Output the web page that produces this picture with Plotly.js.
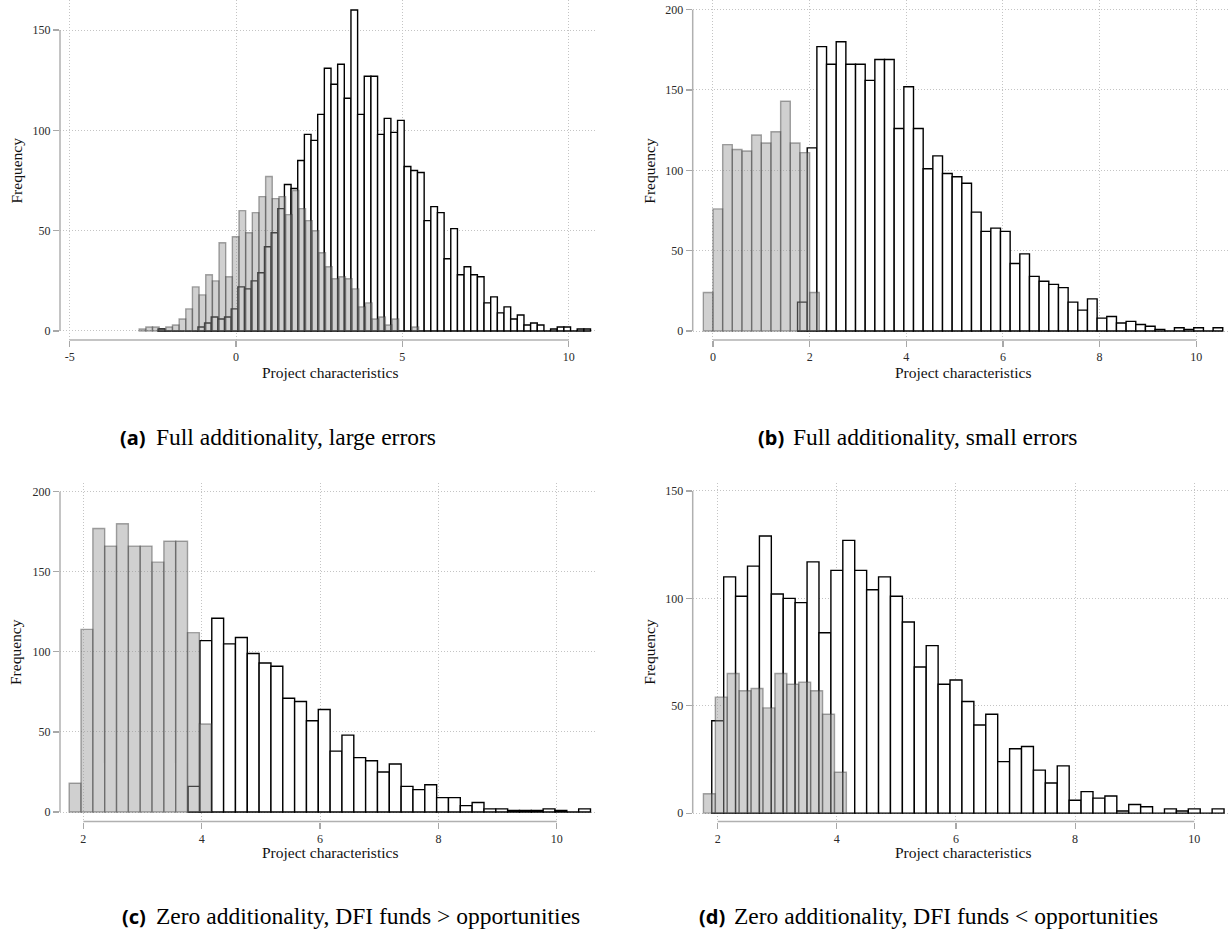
<!DOCTYPE html>
<html><head><meta charset="utf-8">
<script src="https://cdn.plot.ly/plotly-3.0.1.min.js"></script>
<style>html,body{margin:0;padding:0;background:#fff}#chart{width:1231px;height:934px}</style>
</head><body><div id="chart"></div>
<script>
// ---------- data (histogram counts) ----------
const binWidth = 0.2;

// (a) Full additionality, large errors
const aGreyStart = -2.91;
const aGreyCounts = [1,2,2,1,2,3,6,11,22,18,28,25,44,27,47,60,49,59,67,77,66,67,58,70,61,55,50,39,32,26,27,26,21,12,14,6,7,3,6,0,0,2];
const aBlackStart = -2.345;
const aBlackCounts = [1,0,0,0,0,0,2,4,7,6,7,11,22,21,25,29,42,49,61,73,71,85,98,95,108,131,123,133,116,160,108,127,127,98,106,99,105,82,80,79,55,62,59,36,51,28,32,28,27,14,17,9,12,6,8,3,4,3,0,1,2,2,0,1,1];

// (b) Full additionality, small errors
const bGreyStart = -0.2;
const bGreyCounts = [24,76,116,113,112,122,117,124,143,117,111,24];
const bBlackStart = 1.75;
const bBlackCounts = [18,114,177,166,180,166,166,156,169,169,126,152,126,101,109,98,96,92,74,62,64,62,42,48,34,31,29,27,18,13,20,8,9,5,6,4,3,1,0,2,1,2,0,2];

// (c) Zero additionality, DFI funds > opportunities
const cGreyStart = 1.76;
const cGreyCounts = [18,114,177,166,180,166,166,156,169,169,112,55];
const cBlackStart = 3.77;
const cBlackCounts = [16,107,121,105,109,99,93,91,71,69,57,64,38,48,34,32,25,30,16,14,17,9,9,4,6,2,2,1,1,1,2,1,0,2];

// (d) Zero additionality, DFI funds < opportunities
const dGreyStart = 1.76;
const dGreyCounts = [9,54,65,57,58,49,65,60,61,57,46,19];
const dBlackStart = 1.90;
const dBlackCounts = [43,110,101,115,129,102,100,98,117,84,113,127,113,104,110,101,89,68,78,60,62,52,41,46,24,30,31,20,14,22,6,10,7,8,1,4,3,0,2,1,2,0,2];

// tick values
const aXTicks = [-5,0,5,10];
const aYTicks = [0,50,100,150];
const bXTicks = [0,2,4,6,8,10];
const bYTicks = [0,50,100,150,200];
const cXTicks = [2,4,6,8,10];
const cYTicks = [0,50,100,150,200];
const dXTicks = [2,4,6,8,10];
const dYTicks = [0,50,100,150];

const captions = [
  ['(a)', 'Full additionality, large errors'],
  ['(b)', 'Full additionality, small errors'],
  ['(c)', 'Zero additionality, DFI funds > opportunities'],
  ['(d)', 'Zero additionality, DFI funds < opportunities']
];
const xTitle = 'Project characteristics';
const yTitle = 'Frequency';

// ---------- layout helpers ----------
const W = 1231, H = 934;
const px = v => v / W;
const py = v => 1 - v / H;
const SERIF = 'Liberation Serif, Times New Roman, serif';

function centers(start, n) {
  const xs = [];
  for (let i = 0; i < n; i++) xs.push(start + (i + 0.5) * binWidth);
  return xs;
}
function blackTrace(start, counts, n) {
  return {type: 'bar', x: centers(start, counts.length), y: counts, width: binWidth,
    xaxis: 'x' + n, yaxis: 'y' + n, hoverinfo: 'skip',
    marker: {color: '#ffffff', line: {color: '#000000', width: 1.4}}};
}
function greyTrace(start, counts, n) {
  return {type: 'bar', x: centers(start, counts.length), y: counts, width: binWidth,
    xaxis: 'x' + n, yaxis: 'y' + n, hoverinfo: 'skip',
    marker: {color: 'rgba(150,150,150,0.45)', line: {color: 'rgba(60,60,60,0.45)', width: 1.4}}};
}
function axisCommon() {
  return {showline: false, zeroline: false, showgrid: true, gridcolor: '#c4c4c4', griddash: '1px,2px', gridwidth: 1,
    ticks: 'outside', ticklen: 6, tickwidth: 1.2, tickcolor: '#a8a8a8',
    tickfont: {family: SERIF, size: 12, color: '#2a2a2a'}, fixedrange: true};
}
function xAxis(domain, range, ticks, anchor) {
  return Object.assign(axisCommon(), {domain, range, anchor, tickvals: ticks, ticktext: ticks.map(String)});
}
function yAxis(domain, range, ticks, anchor) {
  return Object.assign(axisCommon(), {domain, range, anchor, tickvals: ticks, ticktext: ticks.map(String)});
}
function axisLines(n, xt, yt) {
  const xs = n === 1 ? 'x' : 'x' + n, ys = n === 1 ? 'y' : 'y' + n;
  const st = {color: '#b0b0b0', width: 1.5};
  return [
    {type: 'line', xref: xs, yref: ys + ' domain', x0: xt[0], x1: xt[xt.length - 1], y0: 0, y1: 0, line: st},
    {type: 'line', xref: xs + ' domain', yref: ys, x0: 0, x1: 0, y0: yt[0], y1: yt[yt.length - 1], line: st}
  ];
}

const traces = [
  blackTrace(aBlackStart, aBlackCounts, ''), greyTrace(aGreyStart, aGreyCounts, ''),
  blackTrace(bBlackStart, bBlackCounts, 2), greyTrace(bGreyStart, bGreyCounts, 2),
  blackTrace(cBlackStart, cBlackCounts, 3), greyTrace(cGreyStart, cGreyCounts, 3),
  blackTrace(dBlackStart, dBlackCounts, 4), greyTrace(dGreyStart, dGreyCounts, 4)
];

const topY = [py(340), 1];
const botY = [py(821.5), py(483)];
const leftX = [px(60), px(597)];
const rightX = [px(692.7), px(1230)];

const annotations = [];
function ann(text, x, y, opts) {
  annotations.push(Object.assign({text, x: px(x), y: py(y), xref: 'paper', yref: 'paper', showarrow: false,
    xanchor: 'center', yanchor: 'middle', font: {family: SERIF, size: 15.5, color: '#111'}}, opts || {}));
}
// axis titles
ann(yTitle, 16, 170.5, {textangle: -90});
ann(yTitle, 648.7, 171, {textangle: -90});
ann(yTitle, 15, 652, {textangle: -90});
ann(yTitle, 648.7, 652, {textangle: -90});
ann(xTitle, 329.5, 372);
ann(xTitle, 962.5, 372);
ann(xTitle, 330, 852);
ann(xTitle, 963, 852);
// captions
const capPos = [[148, 154, 437], [786, 791, 437], [148, 154, 916], [727, 732, 916]];
captions.forEach((c, i) => {
  const [lx, tx, cy] = capPos[i];
  ann('<b>' + c[0] + '</b>', lx, cy, {xanchor: 'right', font: {family: 'Noto Sans, DejaVu Sans, sans-serif', size: 20, color: '#000'}});
  ann(c[1], tx, cy, {xanchor: 'left', font: {family: SERIF, size: 23.5, color: '#000'}});
});

const layout = {
  width: W, height: H, margin: {l: 0, r: 0, t: 0, b: 0},
  paper_bgcolor: '#fff', plot_bgcolor: '#fff', showlegend: false,
  barmode: 'overlay', bargap: 0,
  xaxis:  xAxis(leftX,  [-5.29, 10.85], aXTicks, 'y'),
  yaxis:  yAxis(topY,   [-4.5, 165],    aYTicks, 'x'),
  xaxis2: xAxis(rightX, [-0.42, 10.7],  bXTicks, 'y2'),
  yaxis2: yAxis(topY,   [-5.6, 206],    bYTicks, 'x2'),
  xaxis3: xAxis(leftX,  [1.605, 10.68], cXTicks, 'y3'),
  yaxis3: yAxis(botY,   [-5.9, 205.4],  cYTicks, 'x3'),
  xaxis4: xAxis(rightX, [1.58, 10.6],   dXTicks, 'y4'),
  yaxis4: yAxis(botY,   [-3.9, 153.7],  dYTicks, 'x4'),
  shapes: [].concat(axisLines(1, aXTicks, aYTicks), axisLines(2, bXTicks, bYTicks),
                    axisLines(3, cXTicks, cYTicks), axisLines(4, dXTicks, dYTicks)),
  annotations
};
Plotly.newPlot('chart', traces, layout, {staticPlot: true, displayModeBar: false});
</script></body></html>
